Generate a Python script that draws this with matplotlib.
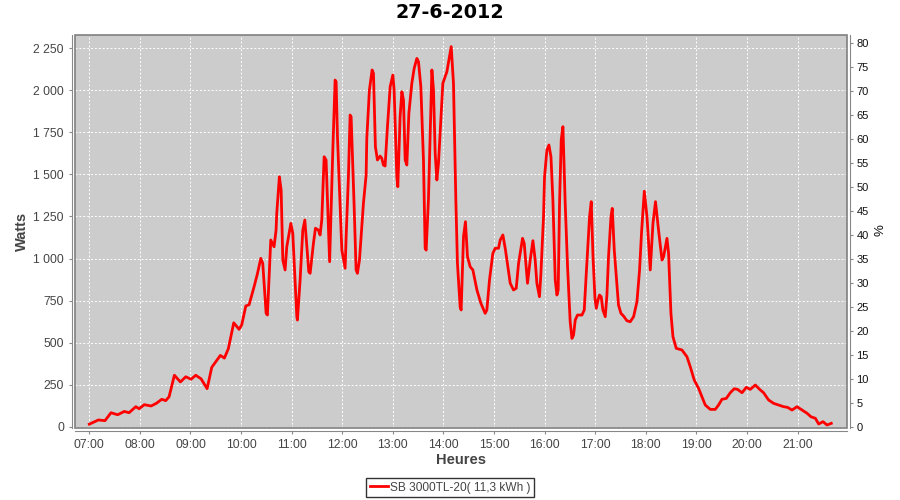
import matplotlib
matplotlib.use("Agg")
import matplotlib.pyplot as plt
from matplotlib.patches import Rectangle
from matplotlib.ticker import FuncFormatter, FixedLocator

title = "27-6-2012"
series_name = "SB 3000TL-20( 11,3 kWh )"

# minutes after 07:00
minutes = [0, 10.7, 18.6, 25.7, 33.7, 41.5, 47.1, 55.1, 59, 65.3, 73.2, 79.5, 85.9, 90.6, 94.6,
           100.9, 108, 114.4, 120.7, 126.2, 132.5, 139.7, 145.2, 155.4, 160.2, 164.9, 171.3, 177.6,
           180.8, 185.6, 189.5, 195.4, 199.3, 203.4, 205.7, 209.7, 211.2, 215.2, 219.1, 221.5, 222.3,
           225.4, 227.5, 229.5, 232.2, 234.2, 239, 241.3, 246.1, 246.8, 250, 253.2, 255.6, 260.3,
           261.9, 265.8, 268.2, 271.7, 273.7, 275.7, 278.5, 280.8, 285, 288.8, 291.5, 292.7, 294.3,
           299.5, 303.4, 304.6, 307.3, 309.3, 310.5, 314.1, 316.4, 318, 320.4, 323.2, 325.1, 328.3,
           329.1, 332.2, 335.4, 337, 339.3, 341.7, 344.9, 346.9, 348.8, 350.8, 353.6, 356.8, 360,
           361.5, 364.7, 365.9, 368.6, 370.7, 372.6, 374.6, 376.6, 379, 382.5, 385.3, 388.5, 390.4,
           393.2, 396.3, 398.3, 399.5, 402.2, 406.3, 408.2, 410.2, 412.2, 414.1, 419.3, 424.1, 427.1,
           429.2, 431.9, 434.7, 436.6, 439.8, 441, 443.8, 446.1, 448.5, 451.7, 454.9, 459.7, 464.4,
           469.5, 471.5, 474.6, 478.6, 481.4, 485.3, 487.3, 490.5, 493.6, 499.2, 503.1, 506.3, 509.1,
           513.8, 515.8, 519, 519.7, 522.9, 526.1, 528.8, 530.8, 533.9, 535.6, 538.7, 539.9, 542.7,
           545.1, 547.5, 549.8, 552.6, 554.6, 556.1, 557.7, 559.7, 561.7, 564.4, 567.2, 570.3, 572.4,
           574.3, 576.3, 579, 584.3, 587, 589.4, 593.3, 595.3, 597.4, 599.7, 601.3, 603.3, 605.1,
           607.1, 609.1, 611.9, 613.9, 615.8, 618.7, 620.2, 622.6, 625, 627.6, 630.5, 633.6, 637.6,
           641.5, 645.5, 649.5, 652.6, 655, 658.2, 661.4, 665.3, 668.5, 671.5, 675.1, 679.2, 681.1,
           685.1, 687, 689.8, 692.2, 696.1, 702.9, 708.8, 712.7, 717.4, 722.6, 726.6, 730.5, 736.4,
           742.4, 746.3, 750.3, 755.4, 760.2, 764.9, 768.8, 774.1, 779.2, 783.9, 789.9, 795, 799.7,
           805.6, 811.5, 817.5, 823.4, 828.1, 833.4, 839.3, 845.3, 851.2, 855.9, 861.1, 865, 870.2,
           874.9, 880]

watts = [15, 40, 36, 83, 71, 91, 83, 119, 107, 131, 123, 139, 163, 155, 178,
         306, 266, 297, 282, 306, 285, 226, 353, 424, 408, 464, 618, 579,
         606, 718, 725, 832, 908, 1001, 971, 674, 664, 1110, 1070, 1169, 1269,
         1486, 1407, 991, 932, 1070, 1209, 1150, 654, 634, 872, 1169, 1229, 921,
         912, 1090, 1180, 1169, 1140, 1229, 1605, 1586, 981, 1645, 2061, 2051, 1724,
         1050, 942, 1130, 1486, 1853, 1843, 1308, 932, 912, 991, 1189, 1328, 1496,
         1715, 2002, 2121, 2101, 1665, 1586, 1609, 1596, 1556, 1550, 1784, 2021, 2091,
         2002, 1486, 1427, 1843, 1992, 1942, 1586, 1556, 1863, 2042, 2131, 2190, 2170,
         2021, 1586, 1061, 1050, 1348, 2121, 2002, 1625, 1467, 1566, 2042, 2111, 2200,
         2260, 2042, 1348, 971, 713, 694, 1130, 1219, 1011, 951, 932, 813, 734,
         674, 694, 872, 1031, 1061, 1061, 1110, 1140, 1050, 853, 813, 823, 971,
         1120, 1090, 892, 853, 991, 1106, 991, 853, 773, 912, 1249, 1486, 1645,
         1675, 1605, 1348, 872, 783, 813, 1328, 1705, 1784, 1328, 951, 624, 525,
         545, 634, 664, 664, 694, 912, 1249, 1338, 1011, 763, 704, 753, 783,
         773, 694, 654, 783, 1011, 1249, 1298, 1050, 892, 724, 674, 658, 630,
         624, 654, 743, 932, 1159, 1400, 1249, 932, 1209, 1338, 1169, 991, 1011,
         1120, 1031, 674, 535, 466, 456, 416, 357, 278, 228, 178, 129, 103,
         103, 129, 163, 168, 202, 226, 222, 202, 234, 222, 248, 222, 202,
         159, 139, 129, 119, 115, 99, 119, 99, 80, 59, 50, 16, 30,
         10, 20]

hour_ticks = list(range(7, 22))
hour_labels = ["%02d:00" % h for h in hour_ticks]
watt_ticks = list(range(0, 2251, 250))
pct_ticks = list(range(0, 81, 5))

hours = [7 + m / 60.0 for m in minutes]

plt.rcParams["font.family"] = ["Liberation Sans", "DejaVu Sans"]

fig = plt.figure(figsize=(9, 5), dpi=100)
fig.patch.set_facecolor("white")
L, R, T, B = 75 / 900, 847 / 900, 35 / 500, 428 / 500
ax = fig.add_axes([L, 1 - B, R - L, B - T])
ax.set_facecolor("#cccccc")

ax.plot(hours, watts, color="#ff0000", lw=2.0, solid_joinstyle="round", zorder=3)

ax.set_xlim(6.717, 21.977)
ax.set_ylim(-7.7, 2329)
ax.xaxis.set_major_locator(FixedLocator(hour_ticks))
ax.set_xticklabels(hour_labels)
ax.yaxis.set_major_locator(FixedLocator(watt_ticks))
ax.yaxis.set_major_formatter(FuncFormatter(lambda v, p: "{:,}".format(int(v)).replace(",", " ")))
ax.grid(True, color="white", linestyle=(0, (2, 2)), linewidth=0.7)
ax.set_axisbelow(True)

for s in ["top", "right"]:
    ax.spines[s].set_visible(False)
for s in ["left", "bottom"]:
    ax.spines[s].set_position(("outward", 2.5))
    ax.spines[s].set_color("#888888")
ax.add_patch(Rectangle((0, 0), 1, 1, transform=ax.transAxes, fill=False,
                       edgecolor="#808080", lw=1.2, zorder=5, clip_on=False))

ax.tick_params(axis="both", colors="#888888", labelcolor="#444444", labelsize=8.7, length=2.5, width=0.8)
ax.tick_params(axis="x", pad=3)
ax.tick_params(axis="y", pad=3)

ax.set_xlabel("Heures", fontsize=10.5, color="#444444", fontweight="bold")
ax.set_ylabel("Watts", fontsize=10.5, color="#444444", fontweight="bold")
ax.xaxis.set_label_coords(0.5, (428 - 460) / 393)
ax.yaxis.set_label_coords((22 - 75) / 772, 0.5)
ax.xaxis.label.set_va("center")
ax.yaxis.label.set_va("center")

ax2 = ax.twinx()
ax2.set_ylim(-0.27, 81.76)
ax2.yaxis.set_major_locator(FixedLocator(pct_ticks))
for s in ["top", "left", "bottom"]:
    ax2.spines[s].set_visible(False)
ax2.spines["right"].set_position(("outward", 2.3))
ax2.spines["right"].set_color("#888888")
ax2.tick_params(axis="y", colors="#888888", labelcolor="#111111", labelsize=8, length=2.5, width=0.8, pad=2)
ax2.set_ylabel("%", fontsize=9.5, color="#111111")
ax2.yaxis.set_label_coords((881 - 75) / 772, (428 - 230) / 393)
ax2.yaxis.label.set_va("center")

fig.text(0.5, 1 - 13 / 500, title, ha="center", va="center", fontsize=13.8,
         fontweight="bold", family="DejaVu Sans")

leg = ax.legend([ax.lines[0]], [series_name], loc="center", bbox_to_anchor=(450 / 900, 12.5 / 500),
                bbox_transform=fig.transFigure, frameon=True, fancybox=False, fontsize=8.6,
                handlelength=1.5, handletextpad=0.2, borderpad=0.3, borderaxespad=0)
leg.get_frame().set_edgecolor("black")
leg.get_frame().set_linewidth(1.0)
for t in leg.get_texts():
    t.set_color("#444444")

fig.savefig("out.png", dpi=100)
